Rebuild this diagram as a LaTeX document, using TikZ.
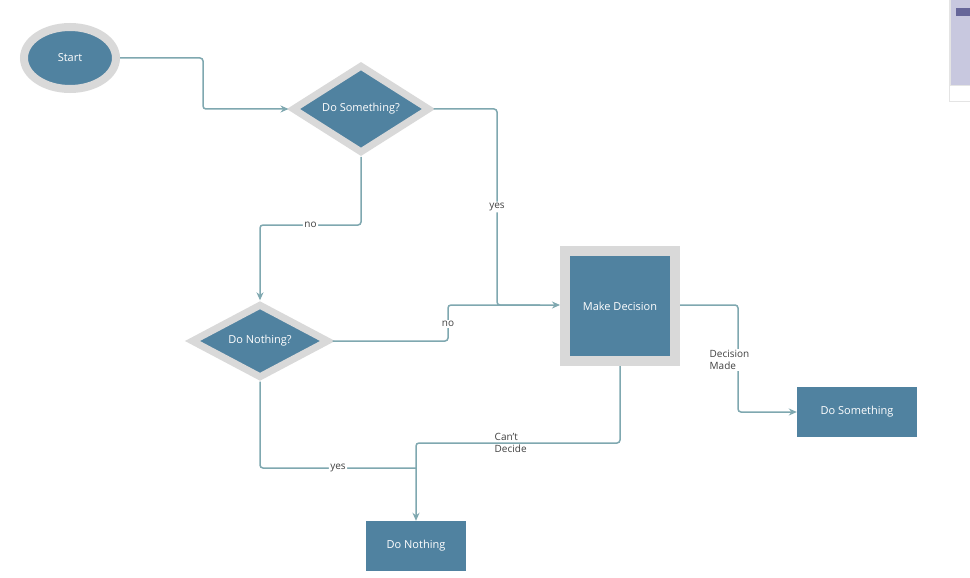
\documentclass[tikz,border=0pt]{standalone}
\usepackage{fontspec}
\setmainfont{Open Sans}
\usetikzlibrary{shapes.geometric,arrows.meta}
\definecolor{nb}{HTML}{5082A0}
\definecolor{rim}{HTML}{D9D9D9}
\definecolor{ln}{HTML}{7FA8B0}
\tikzset{
  x=1pt,y=-1pt,
  txt/.style={text=white,font=\fontsize{11}{13}\selectfont},
  dia/.style={diamond,aspect=1,fill=nb,draw=rim,line width=7pt,inner sep=0pt,minimum width=138pt,txt},
  box/.style={rectangle,fill=nb,inner sep=0pt,minimum width=120pt,minimum height=50pt,txt},
  conn/.style={draw=ln,line width=1.5pt,rounded corners=3pt},
  arr/.style={conn,-{Stealth[length=8pt,width=7pt]}},
  lab/.style={fill=white,inner sep=1.5pt,font=\fontsize{10}{12}\selectfont,text=black!75}
}
\begin{document}
\begin{tikzpicture}
\useasboundingbox (0,0) rectangle (970,578);
\fill[white] (0,0) rectangle (970,578);
% scrollbar
\fill[rim!70] (949,0) rectangle (970,102);
\fill[white] (950,86) rectangle (970,101);
\fill[black!20!gray!70!blue!30] (951,0) rectangle (970,85);
\fill[gray!80!blue] (956,8) rectangle (970,16);
\node[ellipse,fill=nb,draw=rim,line width=8pt,minimum width=92pt,minimum height=62pt,inner sep=0pt,txt] (start) at (70,58) {Start};
\node[dia] (d1) at (361,109) {Do Something?};
\node[dia] (d2) at (260,341) {Do Nothing?};
\node[rectangle,fill=nb,draw=rim,line width=10pt,minimum size=110pt,inner sep=0pt,txt] (md) at (620,306) {Make Decision};
\node[box] (ds) at (857,412) {Do Something};
\node[box,minimum width=100pt] (dn) at (416,546) {Do Nothing};
\coordinate (j1) at (416,468);
\draw[arr] (start.east) -- (203,58) -- (203,109) -- (d1.west);
\draw[arr] (d1.south) -- (361,225) -- node[lab,pos=0.5]{no} (260,225) -- (d2.north);
\draw[arr] (d1.east) -- (497,109) -- node[lab,pos=0.5]{yes} (497,305) -- (md.west|-0,305);
\draw[conn] (d2.east) -- (448,341) -- (448,305) -- (540,305);
\node[lab] at (448,324) {no};
\draw[arr] (md.east|-0,305) -- (738,305) -- (738,412) -- (ds.west);
\node[lab,align=left,anchor=west] at (708,360) {Decision\\Made};
\draw[arr] (md.south) -- (620,443) -- (416,443) -- (dn.north);
\node[lab,align=left,anchor=west,fill=none] at (493,443) {Can't\\Decide};
\draw[conn] (d2.south) -- (260,468) -- node[lab]{yes} (j1);
\end{tikzpicture}
\end{document}
